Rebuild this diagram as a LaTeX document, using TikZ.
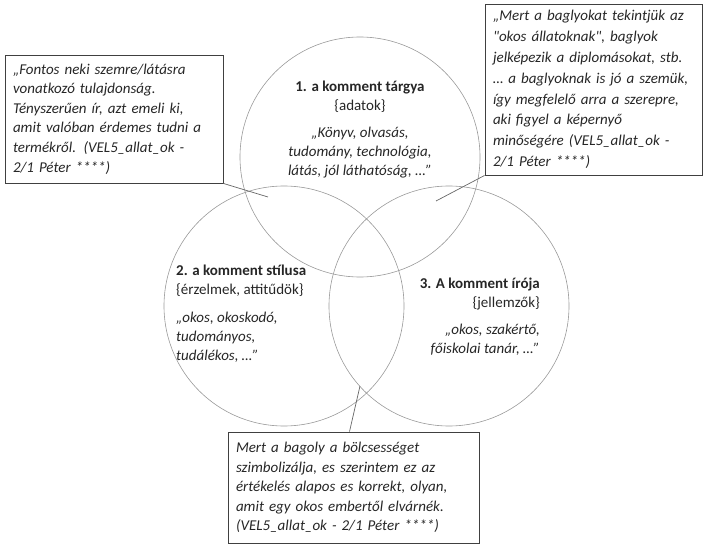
\documentclass[tikz,border=0pt]{standalone}
\usepackage{fontspec}
\setmainfont{Carlito}[Ligatures=TeXOff]
\begin{document}
\begin{tikzpicture}[x=1pt,y=-1pt,
  venn/.style={circle, draw=black!40, line width=0.6pt, minimum size=240pt, inner sep=0pt},
  callout/.style={draw=black!75, line width=0.9pt, inner xsep=8pt, inner ysep=0pt, align=left,
    font=\fontsize{15}{19.6}\selectfont\itshape, text=black!85},
  lead/.style={draw=black!60, line width=0.7pt},
  ctext/.style={inner sep=0pt, font=\fontsize{15}{18.5}\selectfont, text=black!85},
  cquote/.style={ctext, font=\fontsize{15}{19}\selectfont\itshape}]
\useasboundingbox (0,0) rectangle (704,548);

% Venn circles
\node[venn] (c1) at (360,157) {};
\node[venn] (c2) at (284,306) {};
\node[venn] (c3) at (449,306) {};

% circle texts
\node[ctext, align=center, anchor=north] (h1) at (360,81) {\textbf{1. a komment tárgya}\\\{adatok\}};
\node[cquote, align=center, anchor=north] (q1) at (360,127) {„Könyv, olvasás,\\tudomány, technológia,\\látás, jól láthatóság, …”};

\node[ctext, align=left, anchor=north west] (h2) at (176,265) {\textbf{2. a komment stílusa}\\\{érzelmek, attitűdök\}};
\node[cquote, align=left, anchor=north west] (q2) at (176,312) {„okos, okoskodó,\\tudományos,\\tudálékos, …”};

\node[ctext, align=right, anchor=north east] (h3) at (540,278) {\textbf{3. A komment írója}\\\{jellemzők\}};
\node[cquote, align=right, anchor=north east] (q3) at (540,324) {„okos, szakértő,\\főiskolai tanár, …”};

% callout boxes
\node[callout, minimum width=218pt, minimum height=128pt, text width=202pt] (lbox) at (114,119)
  {„Fontos neki szemre/látásra\\vonatkozó tulajdonság.\\Tényszerűen ír, azt emeli ki,\\amit valóban érdemes tudni a\\termékről. (VEL5\_allat\_ok -\\2/1 Péter ****)};
\node[callout, minimum width=217pt, minimum height=171pt, text width=201pt,
  font=\fontsize{15}{20.8}\selectfont\itshape] (rbox) at (593.5,89.5)
  {„Mert a baglyokat tekintjük az\\"okos állatoknak", baglyok\\jelképezik a diplomásokat, stb.\\… a baglyoknak is jó a szemük,\\így megfelelő arra a szerepre,\\aki figyel a képernyő\\minőségére (VEL5\_allat\_ok -\\2/1 Péter ****)};
\node[callout, minimum width=251pt, minimum height=111pt, text width=235pt] (bbox) at (353.5,487.5)
  {Mert a bagoly a bölcsességet\\szimbolizálja, es szerintem ez az\\értékelés alapos es korrekt, olyan,\\amit egy okos embertől elvárnék.\\(VEL5\_allat\_ok - 2/1 Péter ****)};

% leader lines
\coordinate (lend) at (268,197);
\coordinate (rend) at (436,201);
\coordinate (bend) at (360,386);
\draw[lead] (lbox.south east) -- (lend);
\draw[lead] (rbox.south west) -- (rend);
\draw[lead] ([xshift=-4pt]bbox.north) -- (bend);
\end{tikzpicture}
\end{document}
